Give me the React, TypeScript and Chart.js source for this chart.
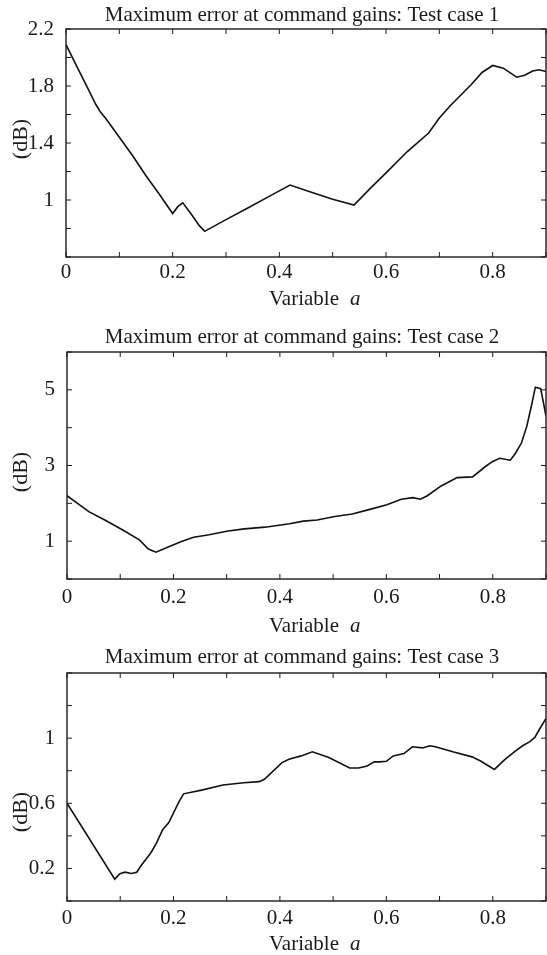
import React, { useEffect, useRef } from "react";
import { Chart, registerables } from "chart.js";

Chart.register(...registerables);

const FONT = '"Liberation Serif", "Times New Roman", serif';
const INK = "#1a1a1a";

// ---- Panel 1 data ----
const xs1 = [0, 0.02, 0.04, 0.056, 0.065, 0.075, 0.1, 0.125, 0.15, 0.175, 0.2, 0.21, 0.219, 0.235, 0.25, 0.26, 0.3, 0.34, 0.38, 0.42, 0.46, 0.5, 0.54, 0.57, 0.6, 0.64, 0.68, 0.7, 0.72, 0.76, 0.78, 0.8, 0.82, 0.845, 0.86, 0.875, 0.887, 0.9];
const ys1 = [2.09, 1.94, 1.79, 1.67, 1.615, 1.57, 1.44, 1.31, 1.17, 1.04, 0.905, 0.955, 0.98, 0.9, 0.82, 0.78, 0.862, 0.942, 1.024, 1.105, 1.055, 1.005, 0.965, 1.08, 1.19, 1.34, 1.47, 1.575, 1.66, 1.81, 1.895, 1.944, 1.925, 1.862, 1.875, 1.905, 1.914, 1.902];

// ---- Panel 2 data ----
const xs2 = [0, 0.041, 0.071, 0.104, 0.136, 0.153, 0.167, 0.189, 0.215, 0.238, 0.267, 0.3, 0.333, 0.372, 0.418, 0.444, 0.47, 0.503, 0.536, 0.569, 0.601, 0.628, 0.65, 0.664, 0.677, 0.703, 0.733, 0.762, 0.785, 0.799, 0.813, 0.833, 0.843, 0.854, 0.864, 0.872, 0.88, 0.89, 0.896, 0.9];
const ys2 = [2.2, 1.78, 1.56, 1.3, 1.035, 0.79, 0.71, 0.84, 0.99, 1.105, 1.17, 1.26, 1.325, 1.37, 1.46, 1.53, 1.56, 1.65, 1.72, 1.84, 1.96, 2.11, 2.15, 2.11, 2.2, 2.46, 2.68, 2.7, 2.96, 3.1, 3.19, 3.14, 3.33, 3.6, 4.04, 4.54, 5.07, 5.03, 4.6, 4.3];

// ---- Panel 3 data ----
const xs3 = [0, 0.0897, 0.0995, 0.109, 0.121, 0.131, 0.139, 0.158, 0.168, 0.18, 0.191, 0.211, 0.219, 0.253, 0.293, 0.332, 0.361, 0.371, 0.404, 0.417, 0.44, 0.461, 0.492, 0.531, 0.548, 0.564, 0.577, 0.587, 0.6, 0.613, 0.633, 0.649, 0.668, 0.682, 0.692, 0.725, 0.761, 0.777, 0.803, 0.823, 0.843, 0.856, 0.869, 0.879, 0.888, 0.9];
const ys3 = [0.6, 0.134, 0.167, 0.177, 0.169, 0.177, 0.216, 0.298, 0.356, 0.44, 0.48, 0.613, 0.658, 0.681, 0.712, 0.726, 0.733, 0.747, 0.85, 0.87, 0.891, 0.916, 0.881, 0.817, 0.817, 0.829, 0.854, 0.854, 0.858, 0.891, 0.905, 0.947, 0.94, 0.953, 0.947, 0.916, 0.885, 0.86, 0.808, 0.87, 0.922, 0.953, 0.977, 1.004, 1.056, 1.121];

// ---- Tick labels ----
const xTickLabels = [0, 0.2, 0.4, 0.6, 0.8];
const yTickLabels1 = [1, 1.4, 1.8, 2.2];
const yTickLabels2 = [1, 3, 5];
const yTickLabels3 = [0.2, 0.6, 1];

const titles = [
  "Maximum error at command gains: Test case 1",
  "Maximum error at command gains: Test case 2",
  "Maximum error at command gains: Test case 3",
];
const xAxisTitle = "Variable";
const xAxisSymbol = "a";
const yAxisTitle = "(dB)";

type PanelCfg = {
  xs: number[];
  ys: number[];
  yMin: number;
  yMax: number;
  yStep: number;
  yLabels: number[];
  title: string;
  canvasTop: number;
  canvasH: number;
  areaLeft: number;
  areaTop: number;
  areaBottom: number;
  xPad: number;
  titleBase: number;
  xTitleBase: number;
  yTitleCenter: number;
};

const panels: PanelCfg[] = [
  {
    xs: xs1, ys: ys1, yMin: 0.6, yMax: 2.2, yStep: 0.2, yLabels: yTickLabels1, title: titles[0],
    canvasTop: 0, canvasH: 318, areaLeft: 66, areaTop: 29, areaBottom: 257, xPad: -5,
    titleBase: 21, xTitleBase: 305, yTitleCenter: 139,
  },
  {
    xs: xs2, ys: ys2, yMin: 0, yMax: 6, yStep: 1, yLabels: yTickLabels2, title: titles[1],
    canvasTop: 318, canvasH: 318, areaLeft: 67, areaTop: 352, areaBottom: 579, xPad: -2,
    titleBase: 343, xTitleBase: 632, yTitleCenter: 472,
  },
  {
    xs: xs3, ys: ys3, yMin: 0, yMax: 1.4, yStep: 0.2, yLabels: yTickLabels3, title: titles[2],
    canvasTop: 636, canvasH: 319, areaLeft: 67, areaTop: 673, areaBottom: 901, xPad: -3,
    titleBase: 663, xTitleBase: 950, yTitleCenter: 812,
  },
];

const W = 547;

function fmt(v: number): string {
  return String(Math.round(v * 100) / 100);
}

function Panel({ cfg }: { cfg: PanelCfg }) {
  const ref = useRef<HTMLCanvasElement>(null);
  useEffect(() => {
    const canvas = ref.current!;
    const top = cfg.canvasTop;
    const boxPlugin = {
      id: "matlabBox",
      afterDraw(chart: any) {
        const { ctx, chartArea: a, scales } = chart;
        const xs = scales.x;
        const ys = scales.y;
        ctx.save();
        ctx.strokeStyle = INK;
        ctx.lineWidth = 1.4;
        ctx.strokeRect(a.left, a.top, a.right - a.left, a.bottom - a.top);
        ctx.lineWidth = 1;
        const tl = 5;
        ctx.beginPath();
        xs.ticks.forEach((t: any) => {
          const px = xs.getPixelForValue(t.value);
          ctx.moveTo(px, a.bottom);
          ctx.lineTo(px, a.bottom - tl);
          ctx.moveTo(px, a.top);
          ctx.lineTo(px, a.top + tl);
        });
        ys.ticks.forEach((t: any) => {
          const py = ys.getPixelForValue(t.value);
          ctx.moveTo(a.left, py);
          ctx.lineTo(a.left + tl, py);
          ctx.moveTo(a.right, py);
          ctx.lineTo(a.right - tl, py);
        });
        ctx.stroke();

        ctx.fillStyle = INK;
        ctx.font = `21px ${FONT}`;
        ctx.textAlign = "center";
        ctx.textBaseline = "alphabetic";
        ctx.fillText(cfg.title, 302, cfg.titleBase - top);

        ctx.textAlign = "left";
        ctx.fillText(xAxisTitle, 269, cfg.xTitleBase - top);
        ctx.font = `italic 21px ${FONT}`;
        ctx.fillText(xAxisSymbol, 350, cfg.xTitleBase - top);

        ctx.font = `22px ${FONT}`;
        ctx.translate(21, cfg.yTitleCenter - top);
        ctx.rotate(-Math.PI / 2);
        ctx.textAlign = "center";
        ctx.textBaseline = "middle";
        ctx.fillText(yAxisTitle, 0, 0);
        ctx.restore();
      },
    };

    const chart = new Chart(canvas, {
      type: "line",
      data: {
        datasets: [
          {
            data: cfg.xs.map((x, i) => ({ x, y: cfg.ys[i] })),
            borderColor: "#111",
            borderWidth: 1.6,
            pointRadius: 0,
            tension: 0,
            fill: false,
          },
        ],
      },
      options: {
        responsive: false,
        animation: false,
        layout: {
          autoPadding: false,
          padding: { top: cfg.areaTop - top, right: 1, bottom: 0, left: 0 },
        },
        plugins: {
          legend: { display: false },
          tooltip: { enabled: false },
          title: { display: false },
        },
        scales: {
          x: {
            type: "linear",
            min: 0,
            max: 0.9,
            afterFit: (s: any) => {
              s.height = top + cfg.canvasH - cfg.areaBottom;
            },
            grid: { display: false },
            border: { display: false },
            ticks: {
              stepSize: 0.1,
              autoSkip: false,
              maxRotation: 0,
              padding: cfg.xPad,
              color: INK,
              font: { family: FONT, size: 21 },
              callback: (v: any) => {
                const n = Number(v);
                return xTickLabels.some((l) => Math.abs(l - n) < 1e-6) ? fmt(n) : "";
              },
            },
          },
          y: {
            type: "linear",
            min: cfg.yMin,
            max: cfg.yMax,
            afterFit: (s: any) => {
              s.width = cfg.areaLeft;
            },
            grid: { display: false },
            border: { display: false },
            ticks: {
              stepSize: cfg.yStep,
              autoSkip: false,
              padding: 4,
              color: INK,
              font: { family: FONT, size: 21 },
              callback: (v: any) => {
                const n = Number(v);
                return cfg.yLabels.some((l) => Math.abs(l - n) < 1e-6) ? fmt(n) : "";
              },
            },
          },
        },
      } as any,
      plugins: [boxPlugin],
    });
    return () => chart.destroy();
  }, [cfg]);

  return (
    <canvas
      ref={ref}
      width={W}
      height={cfg.canvasH}
      style={{ position: "absolute", left: 0, top: cfg.canvasTop, width: W, height: cfg.canvasH }}
    />
  );
}

export default function App() {
  useEffect(() => {
    document.body.style.margin = "0";
  }, []);
  return (
    <div style={{ position: "absolute", left: 0, top: 0, width: W, height: 955, background: "#fff", overflow: "hidden" }}>
      {panels.map((p, i) => (
        <Panel key={i} cfg={p} />
      ))}
    </div>
  );
}
